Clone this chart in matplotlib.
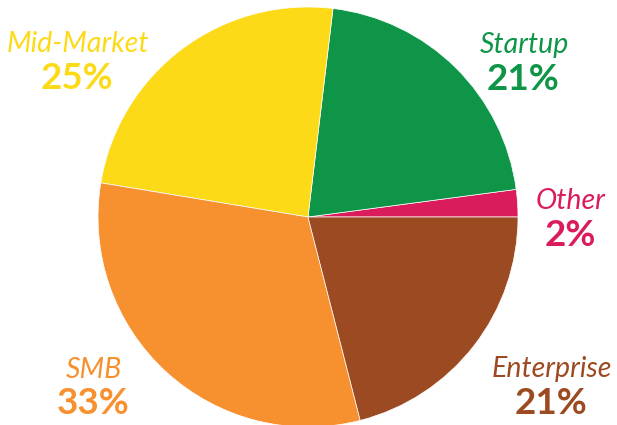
import matplotlib
matplotlib.use('Agg')
import matplotlib.pyplot as plt

# slices, counter-clockwise from 3 o'clock
segments = ['Other', 'Startup', 'Mid-Market', 'SMB', 'Enterprise']
shares = [2.1, 21.0, 24.3, 31.6, 21.0]
pct_labels = ['2%', '21%', '25%', '33%', '21%']
colors = ['#da1c5c', '#0e9547', '#fdda18', '#f7902f', '#9c4a21']

# label anchor points (pixel coords, y from top)
label_pos = {
    'Other': (571, 201),
    'Startup': (524, 45),
    'Mid-Market': (78, 44),
    'SMB': (94, 370),
    'Enterprise': (552, 369),
}

W, H = 617, 425
fig = plt.figure(figsize=(W / 100, H / 100), dpi=100)
ax = fig.add_axes([0, 0, 1, 1])
ax.set_xlim(0, W)
ax.set_ylim(0, H)
ax.set_aspect('equal')
ax.axis('off')

ax.pie(shares, colors=colors, startangle=0, counterclock=True,
       center=(308, H - 217), radius=210,
       wedgeprops={'linewidth': 0.5, 'edgecolor': 'white'})

for name, pct, col in zip(segments, pct_labels, colors):
    x, y = label_pos[name]
    ax.text(x, H - y, name, color=col, fontsize=20.5, family='Lato',
            style='italic', ha='center', va='center')
    ax.text(x - 1, H - y - 34, pct, color=col, fontsize=26.5, family='Lato',
            weight='bold', ha='center', va='center')

ax.set_xlim(0, W)
ax.set_ylim(0, H)
fig.savefig('out.png', dpi=100)
